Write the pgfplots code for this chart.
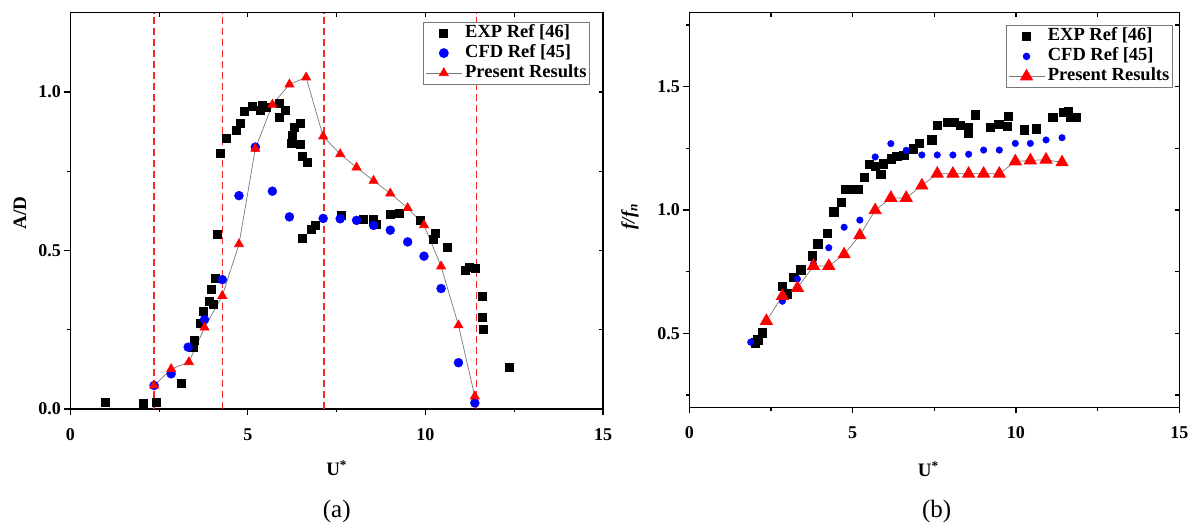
\documentclass[border=0pt]{standalone}
\usepackage{fontspec}
\setmainfont{Liberation Serif}
\usepackage{pgfplots}
\pgfplotsset{compat=1.18}
\definecolor{myred}{RGB}{255,0,0}
\definecolor{myblue}{RGB}{0,0,255}
\definecolor{lgray}{RGB}{120,120,120}
\definecolor{dred}{RGB}{245,40,40}
\newcommand\tlfont{\bfseries\fontsize{18}{20}\selectfont}
\newcommand\lgfont{\bfseries\fontsize{18.5}{20}\selectfont}

\pgfplotsset{
  common/.style={
    scale only axis, anchor=south west,
    xmin=0, xmax=15,
    xtick={0,5,10,15}, minor xtick={2.5,7.5,12.5},
    axis line style={line width=1.1pt, black},
    every tick/.style={line width=1.1pt, black},
    tick label style={font=\tlfont},
    /pgf/number format/assume math mode=true,
  },
  frontaxis/.style={
    common,
    xtick pos=left, ytick pos=left, tick align=outside,
    major tick length=6pt, minor tick length=3.5pt,
    yticklabel style={/pgf/number format/fixed, /pgf/number format/fixed zerofill, /pgf/number format/precision=1},
    xticklabel style={yshift=-10pt},
    legend cell align=left,
    legend style={draw=lgray, line width=0.8pt, fill=white, font=\lgfont,
      inner xsep=2pt, inner ysep=1pt, row sep=0pt, column sep=2pt,
      nodes={inner sep=1pt, text height=13pt, text depth=5pt}},
  },
  backaxis/.style={
    common,
    xtick pos=right, ytick pos=right, tick align=inside,
    major tick length=4pt, minor tick length=4pt,
    xticklabels={}, yticklabels={},
  },
  limg/.style={legend image code/.code={\draw[mark repeat=2,mark phase=2,##1] plot coordinates {(0pt,0pt) (18pt,0pt) (36pt,0pt)};}},
  vdash/.style={dred, line width=1.3pt, dash pattern=on 7pt off 4pt, forget plot},
}

\begin{document}
\begin{tikzpicture}[x=1pt,y=1pt]
\path[use as bounding box] (0,0) rectangle (1192,524);

% ---------------- (a) ----------------
\begin{axis}[backaxis, at={(70.3pt,115pt)}, width=532.7pt, height=396.3pt,
  ymin=0, ymax=1.25, ytick={0,0.5,1}, minor ytick={0.25,0.75}]
\end{axis}
\begin{axis}[frontaxis, at={(70.3pt,115pt)}, width=532.7pt, height=396.3pt,
  ymin=0, ymax=1.25, ytick={0,0.5,1}, minor ytick={0.25,0.75},
  legend style={at={(0.9756,0.9773)}, anchor=north east}]
\addplot[vdash] coordinates {(2.36,0) (2.36,1.25)};
\addplot[vdash] coordinates {(4.28,0) (4.28,1.25)};
\addplot[vdash] coordinates {(7.14,0) (7.14,1.25)};
\addplot[vdash] coordinates {(11.44,0) (11.44,1.25)};
\addplot[only marks, mark=square*, mark size=4pt, black, limg] coordinates {
(0.99,0.022)(2.04,0.019)(2.43,0.022)(3.12,0.082)(3.45,0.194)(3.50,0.216)(3.65,0.271)(3.74,0.307)
(3.90,0.341)(4.02,0.332)(3.97,0.379)(4.07,0.414)(4.15,0.551)(4.22,0.808)(4.38,0.853)(4.67,0.879)
(4.78,0.903)(4.91,0.939)(5.11,0.955)(5.34,0.942)(5.40,0.958)(5.51,0.951)(5.87,0.965)(5.87,0.921)
(6.06,0.942)(6.21,0.839)(6.25,0.864)(6.31,0.890)(6.48,0.900)(6.48,0.835)(6.53,0.797)(6.67,0.780)
(6.53,0.539)(6.79,0.567)(6.90,0.580)(7.62,0.610)(8.24,0.598)(8.53,0.598)(8.62,0.583)(9.01,0.614)
(9.27,0.617)(9.85,0.595)(10.23,0.535)(10.27,0.554)(10.61,0.511)(11.11,0.437)(11.24,0.447)(11.41,0.444)
(11.59,0.355)(11.59,0.290)(11.63,0.252)(12.35,0.132)};
\addlegendentry{EXP Ref [46]}
\addplot[only marks, mark=*, mark size=4.5pt, myblue, limg] coordinates {
(2.36,0.074)(2.84,0.111)(3.32,0.195)(3.78,0.282)(4.28,0.408)(4.75,0.673)(5.21,0.826)(5.69,0.687)
(6.17,0.606)(7.12,0.601)(7.60,0.600)(8.06,0.595)(8.54,0.579)(9.01,0.564)(9.50,0.527)(9.96,0.482)
(10.44,0.380)(10.93,0.146)(11.39,0.019)};
\addlegendentry{CFD Ref [45]}
\addplot[lgray, line width=0.7pt, mark=triangle*, mark size=5.2pt, mark options={myred, draw=myred, fill=myred}, limg] coordinates {
(2.36,0.074)(2.84,0.126)(3.34,0.148)(3.78,0.257)(4.28,0.357)(4.75,0.520)(5.21,0.821)(5.69,0.960)
(6.17,1.024)(6.64,1.046)(7.12,0.860)(7.60,0.804)(8.06,0.762)(8.54,0.720)(9.01,0.680)(9.50,0.634)
(9.96,0.580)(10.44,0.450)(10.93,0.264)(11.39,0.040)};
\addlegendentry{Present Results}
\end{axis}

% ---------------- (b) ----------------
\begin{axis}[backaxis, at={(689.3pt,116.7pt)}, width=490pt, height=394.6pt,
  ymin=0.2, ymax=1.8, ytick={0.5,1,1.5}, minor ytick={0.25,0.75,1.25,1.75}]
\end{axis}
\begin{axis}[frontaxis, at={(689.3pt,116.7pt)}, width=490pt, height=394.6pt,
  ymin=0.2, ymax=1.8, ytick={0.5,1,1.5}, minor ytick={0.25,0.75,1.25,1.75},
  legend style={at={(0.9865,0.9688)}, anchor=north east}]
\addplot[only marks, mark=square*, mark size=4.2pt, black, limg] coordinates {
(2.01,0.462)(2.09,0.474)(2.24,0.503)(2.85,0.692)(3.00,0.661)(3.19,0.728)(3.41,0.758)(3.76,0.815)
(3.93,0.864)(4.22,0.907)(4.42,0.993)(4.65,1.031)(4.79,1.085)(5.00,1.085)(5.16,1.085)(5.35,1.132)
(5.51,1.186)(5.69,1.177)(5.86,1.145)(5.94,1.188)(6.18,1.208)(6.35,1.218)(6.56,1.222)(6.86,1.249)
(7.04,1.272)(7.42,1.285)(7.58,1.343)(7.90,1.357)(8.11,1.357)(8.29,1.343)(8.53,1.336)(8.53,1.312)
(8.75,1.386)(9.21,1.336)(9.47,1.347)(9.74,1.339)(9.77,1.380)(10.25,1.326)(10.62,1.330)(11.13,1.377)
(11.44,1.397)(11.59,1.401)(11.66,1.377)(11.85,1.377)};
\addlegendentry{EXP Ref [46]}
\addplot[only marks, mark=*, mark size=3.3pt, myblue, limg] coordinates {
(1.88,0.464)(2.85,0.630)(3.31,0.720)(3.80,0.782)(4.27,0.847)(4.74,0.930)(5.22,0.959)(5.69,1.215)
(6.17,1.269)(6.64,1.242)(7.12,1.223)(7.59,1.223)(8.07,1.223)(8.55,1.226)(9.01,1.243)(9.49,1.243)
(9.98,1.270)(10.44,1.270)(10.92,1.284)(11.41,1.293)};
\addlegendentry{CFD Ref [45]}
\addplot[lgray, line width=0.7pt, mark=triangle*, mark size=7pt, mark options={myred, draw=myred, fill=myred}, limg] coordinates {
(2.36,0.550)(2.85,0.651)(3.31,0.684)(3.80,0.773)(4.27,0.773)(4.74,0.820)(5.22,0.897)(5.69,0.999)
(6.17,1.049)(6.64,1.049)(7.12,1.099)(7.59,1.147)(8.07,1.147)(8.55,1.147)(9.01,1.147)(9.49,1.147)
(9.98,1.197)(10.44,1.201)(10.92,1.204)(11.41,1.193)};
\addlegendentry{Present Results}
\end{axis}

% ---------------- labels ----------------
\node[font=\bfseries\fontsize{19}{21}\selectfont, rotate=90] at (20,311) {A/D};
\node[font=\bfseries\itshape\fontsize{19}{21}\selectfont, rotate=90] at (630,307.3) {f/f\textsubscript{n}};
\node[font=\bfseries\fontsize{19}{21}\selectfont] at (336.7,55.7) {U\textsuperscript{*}};
\node[font=\bfseries\fontsize{19}{21}\selectfont] at (928.3,54.7) {U\textsuperscript{*}};
\node[font=\fontsize{25}{27}\selectfont] at (336.7,12.3) {(a)};
\node[font=\fontsize{25}{27}\selectfont] at (936.7,13) {(b)};
\end{tikzpicture}
\end{document}
